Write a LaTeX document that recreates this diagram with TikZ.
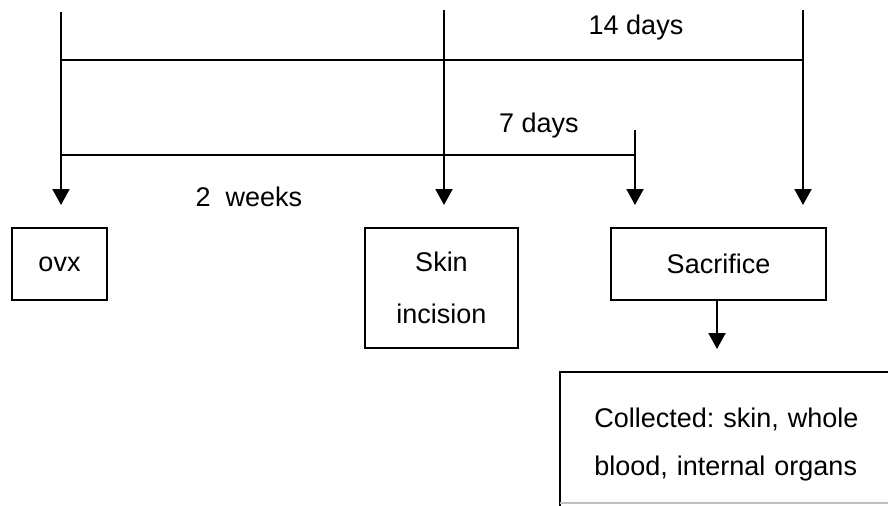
\documentclass[tikz,border=0pt]{standalone}
\usepackage{fontspec}
\setmainfont{Liberation Sans}
\usetikzlibrary{arrows.meta,positioning}
\frenchspacing

\begin{document}
\begin{tikzpicture}[
    x=0.5pt, y=-0.5pt,
    box/.style={rectangle, draw, line width=1pt, inner sep=0pt, align=center, font=\fontsize{13.5}{26}\selectfont},
    note/.style={rectangle, inner xsep=17pt, inner ysep=0pt, text width=166pt, align=left, font=\fontsize{13.5}{24}\selectfont},
    lbl/.style={inner sep=0pt, font=\fontsize{13.5}{16}\selectfont},
    tline/.style={line width=1pt},
    arrow/.style={-{Triangle[width=8.5pt,length=8pt]}, line width=1pt}
]
    \clip (0,0) rectangle (888,505);

    % Boxes
    \node[box, minimum width=47.5pt, minimum height=36pt] (ovx) at (59.5,264) {ovx};
    \node[box, minimum width=76.5pt, minimum height=60pt] (skin) at (441.5,288) {Skin\\incision};
    \node[box, minimum width=107.5pt, minimum height=36pt] (sac) at (718.5,264) {Sacrifice};
    \node[note, anchor=north west, minimum height=72.5pt] (coll) at (560,372) {Collected: skin, whole\\blood, internal organs};

    % Timeline points
    \coordinate (ovxtop) at (61,12);
    \coordinate (ovxend) at (61,205);
    \coordinate (skintop) at (444,10);
    \coordinate (skinend) at (444,205);
    \coordinate (sevtop) at (635,130);
    \coordinate (sevend) at (635,205);
    \coordinate (fourtop) at (803,10);
    \coordinate (fourend) at (803,205);
    \coordinate (colltip) at (717,349);

    % Vertical arrows
    \draw[arrow] (ovxtop) -- (ovxend);
    \draw[arrow] (skintop) -- (skinend);
    \draw[arrow] (sevtop) -- (sevend);
    \draw[arrow] (fourtop) -- (fourend);
    \draw[arrow] (sac.south -| colltip) -- (colltip);

    % Spans
    \draw[tline] (ovxtop |- 0,60) -- (fourtop |- 0,60);
    \draw[tline] (ovxtop |- 0,155) -- (sevtop |- 0,155);

    % Labels
    \node[lbl] (fourteen) at (636,28) {14 days};
    \node[lbl] (seven) at (539,126) {7 days};
    \node[lbl] (weeks) at (249,197) {2~~weeks};

    % Collected box (cut at the edge)
    \draw[tline] (coll.north east) -- (coll.north west) -- (coll.south west);
    \draw[line width=0.8pt, gray!50] (560,503) -- (888,503);
\end{tikzpicture}
\end{document}
